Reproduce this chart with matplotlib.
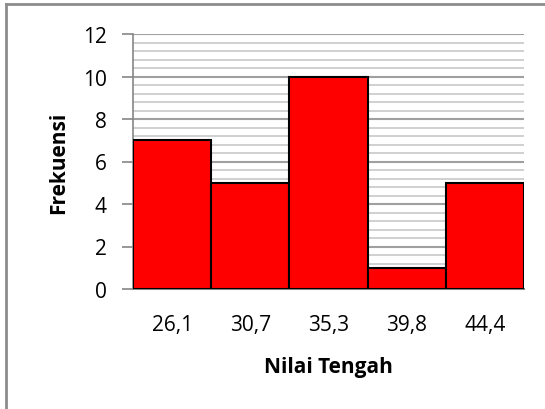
import numpy as np
import matplotlib.pyplot as plt
from matplotlib.lines import Line2D

nilai_tengah = ["26,1", "30,7", "35,3", "39,8", "44,4"]
frekuensi = [7, 5, 10, 1, 5]

plt.rcParams['font.family'] = ['Open Sans', 'DejaVu Sans']

fig = plt.figure(figsize=(5.45, 4.1), dpi=100)
ax = fig.add_axes([133/545, 1-290/410, (524-133)/545, (290-35)/410])

x = np.arange(len(frekuensi))
ax.bar(x, frekuensi, width=1.0, align='edge', color='#ff0000',
       edgecolor='black', linewidth=1.5, zorder=3)

ax.set_xlim(0, len(frekuensi))
ax.set_ylim(0, 12)
ax.set_yticks(np.arange(0, 13, 2))
ax.set_yticks(np.arange(0, 12.01, 0.4), minor=True)
ax.set_xticks(x + 0.5)
ax.set_xticklabels(nilai_tengah)

ax.grid(axis='y', which='major', color='#a0a0a0', linewidth=1.5, zorder=0)
ax.grid(axis='y', which='minor', color='#c8c8c8', linewidth=1.2, zorder=0)

for s in ['top', 'right']:
    ax.spines[s].set_visible(False)
ax.spines['left'].set_color('#868686')
ax.spines['bottom'].set_color('#868686')
ax.spines['left'].set_linewidth(1.2)
ax.spines['bottom'].set_linewidth(1.5)

ax.tick_params(axis='y', which='major', length=8, color='#868686', width=1.2,
               labelsize=15, pad=11)
ax.tick_params(axis='y', which='minor', length=0)
ax.tick_params(axis='x', length=0, labelsize=15, pad=18)

ax.set_ylabel("Frekuensi", fontsize=15, fontweight='bold', labelpad=10)
ax.set_xlabel("Nilai Tengah", fontsize=15, fontweight='bold', labelpad=15)

# chart frame (left and top edges visible)
fig.add_artist(Line2D([6/545, 6/545], [0, 1-5/410], color='#8c8c8c', linewidth=2))
fig.add_artist(Line2D([6/545, 1], [1-5/410, 1-5/410], color='#8c8c8c', linewidth=2))

fig.savefig("out.png", dpi=100)
